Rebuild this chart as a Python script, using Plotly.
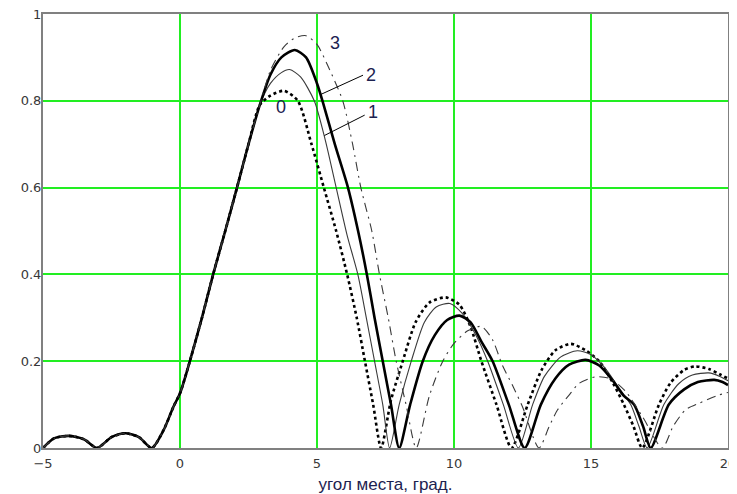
import plotly.graph_objects as go

# shared part (all curves coincide below ~3 deg)
x_common = [-5, -4.6, -4.07, -3.5, -3.03, -2.5, -2.0, -1.5, -1.03, -0.6, -0.24, 0, 0.36, 0.8, 1.21, 1.65, 2.08, 2.5, 2.91]
y_common = [0, 0.022, 0.028, 0.02, 0, 0.025, 0.034, 0.025, 0, 0.041, 0.095, 0.126, 0.2, 0.3, 0.4, 0.5, 0.6, 0.7, 0.79]

# curve 0 (dotted)
x0 = [3.3, 3.8, 4.3, 4.8, 5.25, 5.7, 6.1, 6.45, 6.75, 7.05, 7.34,
      7.7, 8.13, 8.6, 9.1, 9.7, 10.2, 10.6, 11.0, 11.55, 12.1,
      12.69, 13.2, 13.7, 14.26, 14.8, 15.3, 15.8, 16.2, 16.55, 16.87,
      17.48, 17.9, 18.4, 18.8, 19.3, 19.7, 20]
y0 = [0.812, 0.823, 0.80, 0.70, 0.60, 0.50, 0.40, 0.30, 0.20, 0.10, 0,
      0.11, 0.20, 0.29, 0.335, 0.347, 0.33, 0.28, 0.20, 0.10, 0,
      0.10, 0.18, 0.225, 0.24, 0.225, 0.20, 0.15, 0.10, 0.05, 0,
      0.10, 0.15, 0.18, 0.188, 0.182, 0.17, 0.16]

# curve 1 (thin solid)
x1 = [3.3, 3.7, 4.0, 4.4, 4.9, 5.3, 5.7, 6.1, 6.49, 6.8, 7.1, 7.4, 7.65,
      8.0, 8.44, 8.92, 9.35, 9.85, 10.3, 10.8, 11.23, 11.8, 12.35,
      12.87, 13.3, 13.9, 14.5, 15.0, 15.5, 16.0, 16.45, 16.75, 17.05,
      17.66, 18.2, 18.7, 19.3, 19.7, 20]
y1 = [0.84, 0.865, 0.872, 0.855, 0.80, 0.71, 0.60, 0.49, 0.40, 0.30, 0.20, 0.10, 0,
      0.10, 0.20, 0.29, 0.325, 0.333, 0.31, 0.26, 0.20, 0.10, 0,
      0.10, 0.165, 0.21, 0.224, 0.215, 0.185, 0.14, 0.10, 0.05, 0,
      0.10, 0.148, 0.168, 0.173, 0.165, 0.155]

# curve 2 (thick solid)
x2 = [3.3, 3.7, 4.19, 4.6, 5.0, 5.2, 5.65, 6.13, 6.5, 6.82, 7.1, 7.4, 7.7, 8.0,
      8.4, 8.86, 9.3, 9.75, 10.2, 10.6, 11.0, 11.41, 12.0, 12.58,
      13.17, 13.7, 14.2, 14.8, 15.3, 15.8, 16.2, 16.57, 16.9, 17.18,
      17.84, 18.4, 18.9, 19.5, 19.8, 20]
y2 = [0.86, 0.90, 0.917, 0.90, 0.84, 0.80, 0.70, 0.60, 0.50, 0.40, 0.30, 0.20, 0.10, 0,
      0.10, 0.20, 0.26, 0.295, 0.305, 0.29, 0.245, 0.20, 0.10, 0,
      0.10, 0.16, 0.192, 0.203, 0.19, 0.155, 0.12, 0.10, 0.05, 0,
      0.10, 0.135, 0.152, 0.157, 0.152, 0.145]

# curve 3 (dash-dot)
x3 = [3.3, 3.8, 4.2, 4.6, 5.0, 5.4, 5.94, 6.3, 6.6, 7.0, 7.28, 7.6, 7.89, 8.25, 8.62,
      9.1, 9.59, 10.0, 10.5, 11.0, 11.4, 11.77, 12.13, 12.5, 13.1,
      13.47, 13.78, 14.2, 14.57, 15.17, 15.7, 16.27, 16.9, 17.6,
      18.0, 18.45, 18.94, 19.67, 20]
y3 = [0.87, 0.925, 0.945, 0.95, 0.93, 0.88, 0.80, 0.70, 0.60, 0.50, 0.40, 0.30, 0.20, 0.10, 0,
      0.12, 0.20, 0.241, 0.27, 0.28, 0.25, 0.19, 0.145, 0.095, 0,
      0.049, 0.088, 0.122, 0.149, 0.164, 0.16, 0.13, 0.07, 0,
      0.05, 0.088, 0.103, 0.122, 0.128]

curve_labels = ["0", "1", "2", "3"]
x_ticks = [-5, 0, 5, 10, 15, 20]
y_ticks = [0, 0.2, 0.4, 0.6, 0.8, 1]
y_ticktext = ["0", "0.2", "0.4", "0.6", "0.8", "1"]
x_title = "угол места, град."

fig = go.Figure()
styles = [
    (x0, y0, dict(color="#000000", width=2.6, dash="3px,3px")),
    (x1, y1, dict(color="#3a3a3a", width=1.1)),
    (x2, y2, dict(color="#000000", width=2.6)),
    (x3, y3, dict(color="#3a3a3a", width=1.1, dash="9px,5px,2px,5px")),
]
for xs, ys, ln in styles:
    fig.add_trace(go.Scatter(x=x_common + xs, y=y_common + ys, mode="lines",
                             line=dict(shape="spline", smoothing=0.7, **ln),
                             showlegend=False, hoverinfo="skip", cliponaxis=True))

# curve labels
label_pos = [(3.67, 0.785), (7.06, 0.775), (6.96, 0.859), (5.64, 0.934)]
for t, (lx, ly) in zip(curve_labels, label_pos):
    fig.add_annotation(x=lx, y=ly, text=t, showarrow=False,
                       font=dict(family="Liberation Sans", size=18, color="#1c2250"))

# leader lines
fig.add_shape(type="line", x0=6.68, y0=0.859, x1=5.15, y1=0.815,
              line=dict(color="#000000", width=1))
fig.add_shape(type="line", x0=6.74, y0=0.767, x1=5.27, y1=0.72,
              line=dict(color="#000000", width=1))

fig.update_xaxes(range=[-5, 20], tickvals=x_ticks, showgrid=True, gridcolor="#22ee22",
                 gridwidth=1.5, zeroline=False, showline=True, linecolor="#808080",
                 linewidth=2, mirror=True, ticks="", automargin=False,
                 ticklabeloverflow="allow", ticklabelstandoff=2,
                 tickfont=dict(family="DejaVu Sans", size=13, color="#383838"),
                 title=dict(text=x_title, standoff=9,
                            font=dict(family="Liberation Sans", size=17, color="#1c2250")))
fig.update_yaxes(range=[0, 1], tickvals=y_ticks, ticktext=y_ticktext,
                 showgrid=True, gridcolor="#22ee22",
                 gridwidth=1.5, zeroline=False, showline=True, linecolor="#808080",
                 linewidth=2, mirror=True, ticks="", automargin=False,
                 ticklabeloverflow="allow", ticklabelstandoff=-3,
                 tickfont=dict(family="DejaVu Sans", size=13, color="#383838"))
fig.update_layout(width=737, height=494, margin=dict(l=35, r=17, t=6, b=54, autoexpand=False),
                  plot_bgcolor="white", paper_bgcolor="white")
fig.write_html("out.html")
